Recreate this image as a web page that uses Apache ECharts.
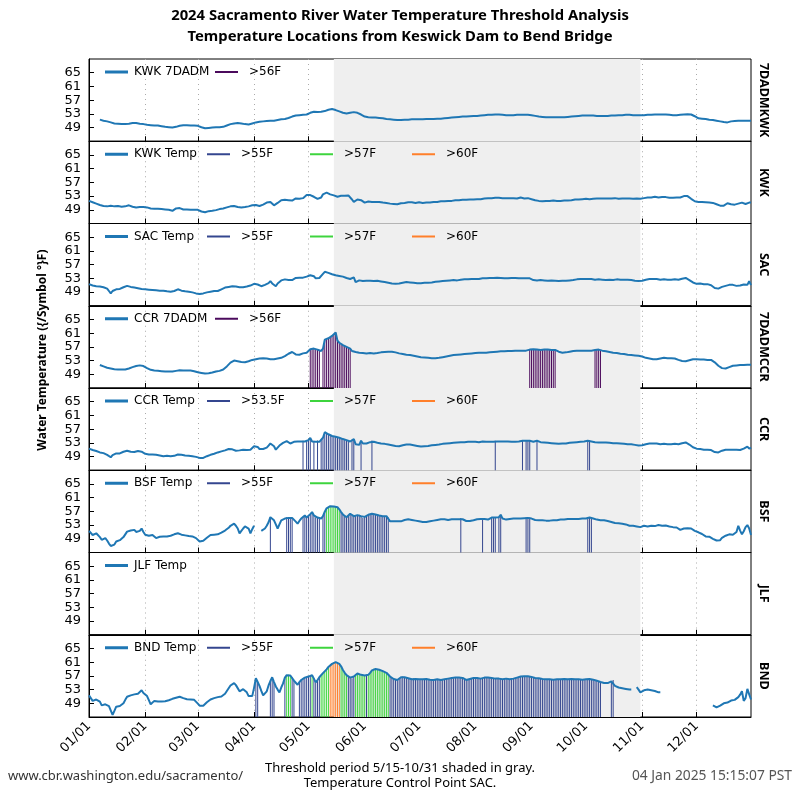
<!DOCTYPE html>
<html><head><meta charset="utf-8">
<script src="https://cdn.jsdelivr.net/npm/echarts@6/dist/echarts.min.js"></script>
<style>html,body{margin:0;padding:0;background:#fff}#c{width:800px;height:800px}</style>
</head><body><div id="c"></div>
<script>
// ---------- data (daily, 2024-01-01 .. 2024-12-31) ----------
const kwk7dadm = [
null,null,null,null,null,null,51.3,51.1,51.0,50.9,50.8,50.6,50.5,50.3,50.2,50.1,50.1,50.0,50.0,50.0,50.0,50.1,50.1,50.2,50.3,50.3,50.3,50.2,50.1,50.0,50.0,
49.9,49.8,49.8,49.7,49.7,49.6,49.6,49.6,49.5,49.4,49.3,49.2,49.2,49.1,49.0,49.0,49.0,49.2,49.4,49.5,49.7,49.7,49.8,49.7,49.7,49.6,49.6,49.6,49.6,
49.5,49.3,49.1,48.9,48.8,48.8,48.9,48.9,49.0,49.0,49.1,49.1,49.1,49.1,49.2,49.4,49.6,49.8,50.0,50.1,50.2,50.3,50.3,50.3,50.2,50.1,50.0,50.0,49.9,50.0,50.2,
50.4,50.5,50.6,50.7,50.8,50.8,50.9,50.9,50.9,51.0,51.0,51.0,51.1,51.2,51.3,51.4,51.5,51.5,51.6,51.8,52.0,52.2,52.4,52.5,52.6,52.6,52.7,52.7,52.8,52.8,
53.0,53.3,53.6,53.6,53.6,53.5,53.5,53.6,53.6,53.8,54.0,54.2,54.3,54.4,54.3,54.1,53.9,53.7,53.5,53.3,53.2,53.1,53.1,53.3,53.4,53.5,53.4,53.3,53.1,52.8,52.5,
52.2,52.1,52.0,52.0,51.9,51.9,51.9,51.8,51.8,51.7,51.7,51.6,51.5,51.4,51.4,51.3,51.3,51.2,51.2,51.2,51.2,51.3,51.3,51.3,51.3,51.3,51.4,51.4,51.4,51.4,
51.4,51.4,51.4,51.5,51.5,51.5,51.5,51.5,51.5,51.5,51.6,51.6,51.6,51.7,51.7,51.8,51.8,51.9,51.9,52.0,52.0,52.0,52.1,52.2,52.2,52.2,52.2,52.3,52.3,52.3,52.4,
52.4,52.4,52.5,52.5,52.5,52.6,52.6,52.7,52.7,52.7,52.8,52.8,52.8,52.8,52.8,52.7,52.7,52.6,52.6,52.6,52.6,52.6,52.6,52.7,52.7,52.7,52.7,52.7,52.7,52.7,52.7,
52.6,52.5,52.4,52.3,52.2,52.1,52.1,52.0,52.0,52.0,52.0,52.0,52.0,52.0,52.0,52.0,52.0,52.0,52.0,52.0,52.1,52.1,52.2,52.2,52.3,52.3,52.4,52.4,52.5,52.5,
52.5,52.5,52.5,52.5,52.5,52.4,52.4,52.4,52.4,52.4,52.4,52.4,52.4,52.4,52.5,52.5,52.5,52.5,52.6,52.6,52.6,52.6,52.7,52.7,52.7,52.7,52.6,52.6,52.6,52.6,52.6,
52.6,52.6,52.7,52.7,52.7,52.7,52.8,52.8,52.8,52.8,52.8,52.8,52.8,52.8,52.7,52.7,52.6,52.6,52.6,52.6,52.6,52.7,52.7,52.8,52.8,52.9,52.9,52.8,52.6,52.3,
52.0,51.7,51.6,51.6,51.5,51.5,51.4,51.3,51.3,51.2,51.1,51.0,50.9,50.8,50.7,50.6,50.5,50.5,50.8,50.8,50.9,50.9,51.0,51.0,51.0,51.0,51.0,51.0,51.0,51.0,51.0
];
const kwkTemp = [
51.6,51.5,51.2,50.9,50.8,50.6,50.4,50.2,50.1,50.2,50.0,50.1,50.2,50.1,50.0,49.9,50.1,50.2,49.9,49.8,50.0,50.2,50.3,50.1,49.9,49.8,49.7,49.6,49.8,49.9,49.8,
49.7,49.7,49.5,49.4,49.2,49.3,49.4,49.3,49.2,49.2,49.2,49.1,49.0,49.0,48.9,48.7,48.9,49.4,49.8,49.5,49.2,49.1,49.0,49.1,49.0,49.0,49.1,49.0,49.0,
49.0,48.8,48.5,48.2,48.3,48.5,48.6,48.7,48.7,48.7,48.9,49.1,49.2,49.4,49.4,49.6,49.7,49.8,50.0,50.1,50.1,50.0,49.8,49.6,49.7,49.7,49.8,49.9,50.0,49.9,50.3,
50.6,50.4,50.2,50.1,50.1,50.5,50.9,51.1,51.2,51.3,50.8,50.3,50.1,51.0,51.5,51.8,51.9,51.9,52.0,51.8,51.6,51.7,52.0,52.3,52.5,52.2,52.0,52.4,52.9,53.3,
53.4,53.3,52.9,52.8,52.5,52.2,52.0,52.6,53.5,53.9,54.0,54.1,53.5,53.6,53.2,52.9,52.8,53.0,53.1,53.2,53.1,52.8,53.2,53.6,52.0,51.3,51.7,52.0,52.1,51.8,51.4,
51.1,51.2,51.4,51.5,51.3,51.2,51.3,51.4,51.3,51.2,51.1,51.1,51.0,50.9,50.8,50.7,50.7,50.6,50.6,50.8,50.9,50.9,51.0,51.1,51.2,51.3,51.2,51.1,51.0,51.1,
51.2,51.1,51.0,51.1,51.1,51.0,51.1,51.2,51.3,51.4,51.3,51.4,51.5,51.6,51.5,51.6,51.6,51.7,51.6,51.8,51.8,51.7,51.8,51.9,51.9,52.0,51.9,52.0,52.0,52.1,52.0,
52.1,52.1,52.2,52.1,52.2,52.3,52.3,52.4,52.3,52.4,52.4,52.5,52.4,52.5,52.3,52.4,52.5,52.4,52.3,52.4,52.5,52.4,52.4,52.3,52.5,52.6,52.4,52.3,52.3,52.4,52.3,
52.1,52.0,51.8,51.7,51.6,51.6,51.5,51.6,51.6,51.5,51.6,51.6,51.7,51.6,51.6,51.5,51.6,51.6,51.7,51.6,51.7,51.8,51.8,51.9,52.0,51.9,52.0,52.1,52.1,52.2,
52.2,52.2,52.1,52.3,52.2,52.2,52.3,52.2,52.3,52.4,52.3,52.2,52.3,52.2,52.3,52.3,52.4,52.3,52.2,52.3,52.3,52.2,52.3,52.4,52.3,52.3,52.2,52.2,52.3,52.2,52.2,
52.3,52.4,52.5,52.6,52.7,52.6,52.7,52.8,52.7,52.6,52.6,52.7,52.8,52.7,52.6,52.5,52.5,52.5,52.6,52.6,52.5,52.6,52.8,53.0,53.2,53.0,52.6,52.2,51.8,51.5,
51.3,51.3,51.4,51.3,51.2,51.2,51.1,51.1,51.0,51.0,50.8,50.6,50.4,50.2,50.1,50.2,50.6,50.9,50.8,50.6,50.4,50.5,50.6,50.8,51.0,51.1,50.9,50.7,51.0,51.1,51.1
];
const sacTemp = [
51.3,51.1,50.9,50.8,50.7,50.6,50.6,50.5,50.4,50.2,50.0,49.3,48.6,49.3,49.8,49.8,49.9,49.9,50.1,50.4,50.6,50.8,50.7,50.5,50.4,50.3,50.2,50.1,50.0,49.9,49.8,
49.8,49.7,49.7,49.6,49.6,49.5,49.5,49.4,49.4,49.4,49.4,49.3,49.2,49.2,49.1,49.1,49.3,49.6,49.8,49.6,49.4,49.3,49.2,49.1,49.1,49.0,48.9,48.8,48.6,
48.5,48.4,48.5,48.6,48.8,48.9,49.0,49.1,49.2,49.3,49.3,49.3,49.5,49.8,50.1,50.3,50.4,50.5,50.6,50.7,50.7,50.6,50.5,50.4,50.3,50.4,50.5,50.6,50.8,50.9,51.2,
51.4,51.6,51.2,50.9,50.7,50.9,51.1,51.3,51.6,52.2,51.5,51.0,50.7,51.5,52.0,52.4,52.6,52.7,52.8,52.5,52.2,52.5,52.8,53.1,53.3,53.2,53.1,53.2,53.4,53.5,
53.6,53.9,54.2,53.6,53.0,53.0,53.1,53.6,54.3,54.9,54.8,54.6,54.4,54.2,54.0,53.9,53.8,53.7,53.6,53.5,53.3,53.1,53.0,52.8,53.1,53.3,51.9,52.1,52.4,52.3,52.2,
52.2,52.3,52.4,52.3,52.3,52.2,52.2,52.3,52.2,52.1,52.0,51.9,51.8,51.7,51.6,51.5,51.5,51.4,51.4,51.5,51.6,51.7,51.8,51.9,51.9,51.8,51.8,51.7,51.7,51.6,
51.6,51.6,51.6,51.7,51.6,51.7,51.8,51.8,51.9,52.0,52.0,52.1,52.1,52.2,52.2,52.3,52.4,52.4,52.4,52.5,52.5,52.4,52.5,52.6,52.6,52.7,52.6,52.7,52.7,52.8,52.8,
52.8,52.9,52.8,52.9,53.0,52.9,53.0,53.0,53.1,53.0,53.1,53.1,53.2,53.0,53.1,52.9,53.0,53.1,53.0,53.0,53.1,53.0,53.1,53.0,53.0,53.1,53.0,52.9,53.0,53.1,53.0,
52.6,52.5,52.4,52.4,52.4,52.5,52.4,52.4,52.3,52.3,52.3,52.4,52.3,52.3,52.3,52.2,52.2,52.3,52.2,52.3,52.4,52.4,52.5,52.5,52.6,52.7,52.7,52.8,52.8,52.8,
52.8,52.8,52.7,52.8,52.7,52.6,52.6,52.7,52.6,52.6,52.6,52.5,52.6,52.6,52.6,52.5,52.6,52.7,52.6,52.6,52.6,52.6,52.5,52.6,52.6,52.5,52.4,52.3,52.3,52.2,52.2,
52.3,52.5,52.6,52.7,52.8,52.8,52.8,52.7,52.8,52.7,52.6,52.6,52.7,52.6,52.6,52.5,52.6,52.6,52.7,52.7,52.6,52.7,52.9,53.1,53.1,52.9,52.5,52.1,51.8,51.5,
51.4,51.4,51.5,51.4,51.3,51.3,51.3,51.2,51.0,50.6,50.2,49.8,50.0,50.3,50.5,50.7,50.8,51.0,51.1,51.2,51.1,51.0,50.8,50.7,50.9,51.0,51.2,51.4,51.1,52.2,51.0
];
const ccr7dadm = [
null,null,null,null,null,null,51.7,51.5,51.3,51.1,50.9,50.8,50.7,50.6,50.5,50.5,50.4,50.4,50.4,50.4,50.4,50.5,50.7,50.9,51.1,51.3,51.4,51.5,51.6,51.6,51.4,
51.1,50.8,50.5,50.3,50.2,50.1,50.0,50.0,49.9,49.9,49.9,49.8,49.8,49.8,49.8,49.8,49.9,50.0,50.1,50.2,50.2,50.1,50.1,50.1,50.1,50.1,50.0,49.9,49.8,
49.6,49.5,49.4,49.3,49.2,49.2,49.3,49.4,49.5,49.7,49.8,49.9,50.0,50.2,50.4,50.8,51.3,51.8,52.4,52.9,53.0,52.9,52.8,52.7,52.6,52.5,52.5,52.6,52.8,53.0,53.2,
53.3,53.4,53.5,53.6,53.6,53.7,53.7,53.6,53.5,53.4,53.4,53.4,53.5,53.6,53.7,53.8,54.0,54.3,54.6,55.0,55.4,55.5,55.2,54.8,54.6,54.7,54.9,55.1,55.2,55.3,
55.8,56.3,56.6,56.5,56.3,56.2,56.1,55.8,56.5,59.1,59.3,59.5,59.6,60.2,60.7,61.2,58.8,58.2,57.8,57.5,57.3,57.0,56.8,56.5,55.8,55.6,55.5,55.4,55.3,55.2,55.2,
55.2,55.1,55.1,55.2,55.2,55.1,55.1,55.2,55.3,55.4,55.5,55.5,55.6,55.6,55.6,55.6,55.5,55.4,55.2,55.1,55.0,54.9,54.8,54.7,54.6,54.6,54.5,54.4,54.3,54.2,
54.1,54.0,53.9,53.9,53.8,53.8,53.7,53.7,53.7,53.7,53.8,53.8,53.9,54.0,54.1,54.2,54.3,54.4,54.5,54.6,54.6,54.7,54.7,54.8,54.8,54.9,54.9,55.0,55.0,55.1,55.1,
55.2,55.2,55.3,55.3,55.3,55.3,55.3,55.4,55.4,55.5,55.5,55.6,55.6,55.6,55.7,55.7,55.7,55.8,55.8,55.8,55.8,55.9,55.9,55.9,55.9,55.9,55.9,55.9,55.9,56.0,56.2,
56.3,56.3,56.3,56.2,56.2,56.1,56.1,56.2,56.2,56.2,56.1,56.1,56.1,56.1,55.9,55.6,55.4,55.3,55.3,55.4,55.5,55.6,55.7,55.8,55.8,55.9,55.9,55.9,55.9,55.9,
55.9,55.9,55.9,55.9,55.9,56.1,56.1,56.2,56.1,55.9,55.8,55.7,55.6,55.5,55.4,55.3,55.3,55.2,55.1,55.0,54.9,54.9,54.8,54.7,54.6,54.6,54.5,54.5,54.4,54.4,54.3,
54.2,54.0,53.8,53.7,53.6,53.5,53.4,53.4,53.4,53.5,53.6,53.7,53.8,53.8,53.7,53.7,53.7,53.7,53.6,53.4,53.2,53.0,52.9,52.8,52.8,52.9,53.1,53.3,53.4,53.4,
53.4,53.4,53.3,53.3,53.3,53.3,53.2,53.2,53.2,53.0,52.5,52.0,51.5,51.1,50.8,50.6,50.7,50.9,51.1,51.3,51.5,51.6,51.6,51.6,51.7,51.7,51.7,51.8,51.8,51.8,51.8
];
const ccrTemp = [
51.3,51.1,50.9,50.8,50.6,50.4,50.2,50.1,50.0,49.8,49.5,49.1,48.8,49.4,49.8,49.9,49.9,49.9,50.1,50.4,50.6,50.7,50.5,50.4,50.3,50.3,50.4,50.6,50.7,50.4,50.0,
49.8,49.6,49.6,49.7,49.6,49.6,49.5,49.4,49.3,49.2,49.1,49.1,49.2,49.1,49.1,49.1,49.2,49.4,49.6,49.6,49.5,49.4,49.3,49.2,49.2,49.1,49.1,49.0,48.9,
48.8,48.6,48.4,48.6,48.9,49.1,49.3,49.5,49.6,49.8,50.0,50.2,50.4,50.5,50.5,50.8,51.0,51.2,51.3,51.1,50.9,50.7,50.7,50.8,50.9,51.0,51.0,50.9,51.0,51.0,51.5,
52.0,52.4,51.8,51.2,51.0,51.2,51.4,51.6,52.2,52.8,53.1,52.0,51.0,51.6,52.2,52.6,53.0,53.3,53.5,53.2,52.8,53.0,53.3,53.4,53.4,53.4,53.4,53.6,53.4,53.7,
53.8,54.4,53.4,53.6,53.3,53.7,53.3,53.8,54.5,56.1,55.8,55.5,55.2,55.0,54.9,54.8,54.7,54.5,54.3,54.1,53.9,53.8,53.6,53.4,53.9,54.1,52.6,52.5,52.4,53.6,52.8,
52.6,52.8,53.0,53.2,53.7,53.3,53.1,53.0,52.9,52.8,52.8,52.7,52.6,52.5,52.4,52.3,52.2,52.1,51.9,52.0,52.2,52.3,52.4,52.5,52.6,52.5,52.4,52.3,52.2,52.1,
52.0,51.9,51.9,52.0,52.0,52.1,52.2,52.3,52.3,52.4,52.5,52.5,52.6,52.7,52.8,52.8,52.8,52.9,52.9,53.0,53.0,53.1,53.1,53.2,53.2,53.2,53.2,53.3,53.3,53.3,53.3,
53.3,53.3,53.2,53.3,53.4,53.3,53.3,53.4,53.3,53.4,53.3,53.6,53.4,53.3,53.4,53.3,53.4,53.3,53.4,53.4,53.3,53.4,53.3,53.4,53.4,53.3,53.6,53.4,53.6,53.7,53.6,
53.4,53.3,53.4,53.6,53.3,53.2,53.1,53.1,53.0,53.0,52.9,52.9,52.8,52.8,52.8,52.7,52.7,52.8,52.8,52.8,52.9,53.0,53.0,53.1,53.1,53.2,53.2,53.3,53.3,53.4,
53.4,53.6,53.7,53.4,53.3,53.2,53.2,53.1,53.1,53.1,53.1,53.1,53.1,53.0,53.0,52.9,52.9,52.9,52.8,52.8,52.8,52.7,52.7,52.6,52.6,52.6,52.5,52.4,52.3,52.2,52.2,
52.3,52.5,52.6,52.7,52.8,52.8,52.8,52.7,52.8,52.7,52.6,52.6,52.7,52.6,52.6,52.6,52.6,52.6,52.7,52.7,52.6,52.7,52.9,53.1,53.1,52.9,52.5,52.1,51.7,51.4,
51.3,51.2,51.2,51.1,51.0,51.0,51.0,51.0,50.9,50.6,50.3,50.0,50.2,50.5,50.7,50.9,51.0,51.0,51.0,51.0,51.0,51.0,51.0,50.9,50.9,51.0,51.3,51.7,51.9,51.3,51.6
];
const bsfTemp = [
51.3,50.8,50.1,50.3,50.6,50.6,49.5,48.7,49.0,49.2,48.5,47.6,46.9,46.5,47.3,48.2,48.5,48.6,48.7,49.5,50.3,51.1,51.3,51.4,51.5,51.6,51.0,50.6,51.3,52.0,51.0,
50.2,49.7,49.9,50.0,50.1,49.6,49.2,49.4,49.6,49.7,49.7,49.8,49.7,49.7,49.9,50.1,50.3,50.5,50.6,50.4,50.2,50.1,50.0,49.9,49.8,49.8,49.7,49.7,49.2,
48.7,48.2,48.0,48.4,48.9,49.3,49.7,50.1,50.2,50.2,50.3,50.3,50.5,50.8,51.1,51.4,51.6,52.2,52.8,53.2,53.4,52.8,52.0,50.6,51.3,52.0,52.6,53.0,52.0,50.6,51.8,
52.8,null,null,null,51.3,51.6,52.0,52.8,53.8,55.3,54.8,54.4,53.2,52.0,53.2,54.4,54.8,54.9,55.3,55.1,55.2,55.1,54.6,54.0,53.4,54.2,54.9,55.4,55.8,55.2,
55.6,56.2,56.8,55.8,55.3,55.2,55.1,54.9,55.6,56.9,57.9,58.3,58.5,58.5,58.4,58.3,58.2,57.6,56.8,56.1,55.7,55.3,55.8,56.3,55.9,55.6,55.7,55.9,56.0,55.6,55.1,
55.4,55.8,56.0,56.2,56.3,56.3,56.1,55.9,55.8,55.7,55.6,55.5,55.6,55.2,54.1,54.0,54.1,54.2,54.1,54.0,54.1,54.3,54.5,54.6,54.7,54.6,54.5,54.4,54.3,54.2,
54.1,54.0,53.9,53.9,53.9,54.0,54.1,54.2,54.3,54.4,54.5,54.6,54.7,54.6,54.7,54.6,54.5,54.6,54.7,54.8,54.7,54.8,54.7,55.1,54.7,54.4,54.2,54.1,54.2,54.3,54.4,
54.6,54.7,54.7,54.8,55.1,54.8,54.7,54.6,54.8,55.2,55.1,55.2,54.9,55.3,56.0,54.9,54.7,54.6,54.7,54.8,54.8,54.9,54.9,54.9,54.8,54.9,54.9,55.0,55.2,55.1,55.2,
54.9,54.7,54.5,54.4,54.4,54.3,54.4,54.4,54.3,54.4,54.3,54.4,54.4,54.5,54.4,54.5,54.6,54.5,54.6,54.7,54.8,54.7,54.8,54.9,54.8,54.9,54.8,54.9,54.9,55.0,
54.9,55.1,55.2,55.1,54.9,54.7,54.6,54.5,54.4,54.3,54.4,54.3,54.2,54.1,53.9,53.7,53.6,53.8,53.5,53.3,53.4,53.3,53.2,53.0,52.8,52.9,52.8,52.7,52.6,52.5,52.4,
52.6,52.8,52.7,52.6,52.7,52.8,52.6,52.7,52.9,53.0,52.9,52.8,53.0,52.9,52.7,52.6,52.5,52.4,52.5,52.3,52.0,51.6,51.8,52.0,52.2,52.1,52.2,52.0,51.6,51.3,
51.1,50.9,50.6,50.4,50.1,49.7,49.8,49.6,49.3,49.0,48.8,48.5,48.0,48.6,49.3,49.7,49.9,50.1,50.3,50.4,50.2,50.0,51.0,52.8,51.4,50.3,51.2,52.4,53.0,52.0,50.1
];
const jlfTemp = [];
const bndTemp = [
51.3,50.5,49.7,49.9,50.1,50.3,49.5,48.4,48.5,48.7,48.5,48.2,47.8,45.6,46.8,48.0,48.1,48.2,48.2,49.0,50.0,50.9,51.1,51.3,51.4,51.6,51.7,51.8,52.3,52.8,52.0,
51.5,51.1,49.9,48.7,49.2,49.7,49.6,49.5,49.4,49.5,49.6,49.6,49.7,49.9,50.1,50.3,50.5,50.6,51.1,50.9,50.7,50.5,50.3,50.2,50.1,50.1,50.1,50.0,49.5,
48.9,48.3,47.8,48.3,48.8,49.3,49.7,50.1,50.3,50.5,50.6,50.8,50.9,51.0,51.1,51.8,52.6,53.4,54.2,54.6,54.9,54.3,53.9,52.5,52.8,53.1,53.2,52.2,51.1,51.0,51.1,
53.5,56.3,55.2,54.1,52.6,51.3,51.9,52.5,54.2,55.5,56.6,55.2,53.9,53.0,52.2,53.6,54.8,56.5,57.2,57.3,57.1,56.6,55.6,55.0,54.4,55.2,55.8,56.3,56.5,56.7,
56.8,57.0,57.2,56.2,55.1,55.8,56.6,57.2,57.8,58.2,58.9,59.6,60.1,60.5,60.9,61.0,60.9,60.5,59.8,58.7,57.9,57.2,56.8,56.5,56.3,56.8,57.2,57.7,57.5,57.3,57.2,
57.1,57.0,57.3,57.9,58.6,59.1,59.0,58.9,58.8,58.6,58.4,58.2,57.9,57.4,56.8,56.4,56.1,55.9,55.8,56.2,56.6,56.8,56.6,56.4,56.3,56.1,56.0,56.2,56.1,56.0,
56.0,56.1,56.0,55.9,56.1,56.0,55.9,55.9,55.8,55.9,56.0,55.8,55.8,55.9,56.0,56.1,56.2,56.3,56.4,56.3,56.5,56.4,56.5,56.6,56.4,56.2,55.8,55.9,56.1,56.3,56.4,
56.5,56.4,56.3,56.2,56.4,56.5,56.6,56.5,56.6,56.4,56.3,56.2,56.3,56.2,56.1,56.0,56.1,56.2,56.1,56.0,56.0,56.2,56.4,56.5,56.6,56.8,56.9,56.9,56.9,56.9,56.8,
56.7,56.5,56.4,56.3,56.3,56.2,56.1,56.0,56.0,56.1,56.0,56.0,55.9,55.9,56.0,56.1,56.0,56.0,56.1,56.0,56.0,56.1,56.1,56.0,56.0,56.1,56.0,56.0,55.9,56.0,
56.0,56.0,56.1,56.0,55.9,55.8,55.6,55.4,55.2,55.0,54.9,54.8,54.9,55.0,55.4,55.8,54.1,53.8,53.6,53.5,53.4,53.3,53.2,53.1,53.0,53.0,null,null,53.7,53.0,52.2,
52.5,52.8,53.0,53.0,52.9,52.8,52.8,52.6,52.4,52.2,52.2,null,null,null,null,null,null,null,null,null,null,null,null,null,null,null,null,null,null,null,
null,null,null,null,null,null,null,null,null,48.4,48.2,47.8,47.9,48.3,48.7,49.0,49.0,49.2,49.5,49.8,50.1,50.0,50.3,50.8,51.5,52.5,49.7,50.5,53.2,51.6,50.1
];

const yTicks = [49, 53, 57, 61, 65];
const shadeStart = '05/15', shadeEnd = '10/31';

// ---------- style ----------
const LINE = '#1f77b4', NAVY = '#34468f', PURPLE = '#4b0a5c', GREEN = '#3ed43e', ORANGE = '#ff7f2a';
const FONT = 'DejaVu Sans', TFONT = 'Noto Sans';

const dates = [];
for (let d = new Date(Date.UTC(2024, 0, 1)); d.getUTCFullYear() === 2024; d.setUTCDate(d.getUTCDate() + 1)) {
  dates.push(String(d.getUTCMonth() + 1).padStart(2, '0') + '/' + String(d.getUTCDate()).padStart(2, '0'));
}
const monthStart = (i, v) => v.endsWith('/01');

const th55 = [{name: '>55F', lo: 55, hi: 57, color: NAVY}, {name: '>57F', lo: 57, hi: 60, color: GREEN}, {name: '>60F', lo: 60, hi: 1e9, color: ORANGE}];
const th535 = [{name: '>53.5F', lo: 53.5, hi: 57, color: NAVY}, {name: '>57F', lo: 57, hi: 60, color: GREEN}, {name: '>60F', lo: 60, hi: 1e9, color: ORANGE}];
const th56 = [{name: '>56F', lo: 56, hi: 1e9, color: PURPLE}];

const POS_T = [105, 207, 310, 412], POS_D = [105, 215];
const panels = [
  {label: '7DADMKWK', line: 'KWK 7DADM', data: kwk7dadm, th: th56, pos: POS_D},
  {label: 'KWK', line: 'KWK Temp', data: kwkTemp, th: th55, pos: POS_T},
  {label: 'SAC', line: 'SAC Temp', data: sacTemp, th: th55, pos: POS_T},
  {label: '7DADMCCR', line: 'CCR 7DADM', data: ccr7dadm, th: th56, pos: POS_D},
  {label: 'CCR', line: 'CCR Temp', data: ccrTemp, th: th535, pos: POS_T},
  {label: 'BSF', line: 'BSF Temp', data: bsfTemp, th: th55, pos: POS_T},
  {label: 'JLF', line: 'JLF Temp', data: jlfTemp, th: [], pos: POS_T},
  {label: 'BND', line: 'BND Temp', data: bndTemp, th: th55, pos: POS_T}
];

const TOP = 59, PH = 82.25, LEFT = 89, PW = 662;
const grid = [], xAxis = [], yAxis = [], series = [], legend = [];
panels.forEach((p, i) => {
  const top = TOP + i * PH;
  grid.push({left: LEFT, top: top, width: PW, height: PH, show: true, borderColor: '#000', borderWidth: 1, backgroundColor: 'transparent'});
  xAxis.push({
    gridIndex: i, type: 'category', data: dates, boundaryGap: false,
    axisLine: {show: true, lineStyle: {color: '#000', width: 1}},
    axisTick: {show: true, inside: true, length: 5, interval: monthStart, lineStyle: {color: '#000'}},
    axisLabel: {show: i === panels.length - 1, interval: monthStart, rotate: 45, margin: 7,
      fontFamily: FONT, fontSize: 13, color: '#000'},
    splitLine: {show: true, interval: monthStart, lineStyle: {type: [1, 4], color: '#aaa', width: 1}}
  });
  yAxis.push({
    gridIndex: i, type: 'value', min: 45, max: 69, interval: 4, startValue: 45,
    axisLine: {show: true, lineStyle: {color: '#000'}},
    axisTick: {show: true, inside: true, length: 5, lineStyle: {color: '#000'}},
    axisLabel: {showMinLabel: false, showMaxLabel: false, margin: 8, fontFamily: FONT, fontSize: 13, color: '#000',
      formatter: v => yTicks.includes(v) ? String(v) : ''},
    splitLine: {show: false}
  });
  yAxis.push({
    gridIndex: i, type: 'value', min: 45, max: 69, position: 'right',
    axisLine: {show: false}, axisTick: {show: false}, axisLabel: {show: false}, splitLine: {show: false},
    name: p.label, nameLocation: 'middle', nameRotate: -90, nameGap: 6,
    nameTextStyle: {fontFamily: TFONT, fontWeight: 'bold', fontSize: 12.5, color: '#000'}
  });
  // shaded threshold period
  series.push({
    type: 'line', name: 'shade' + i, xAxisIndex: i, yAxisIndex: 2 * i, data: [], z: -1, silent: true,
    markArea: {silent: true, itemStyle: {color: '#efefef'}, data: [[{xAxis: shadeStart}, {xAxis: shadeEnd}]]}
  });
  p.th.forEach(t => {
    series.push({
      type: 'bar', name: t.name, xAxisIndex: i, yAxisIndex: 2 * i, barWidth: 1, barGap: '-100%', clip: true,
      itemStyle: {color: t.color}, color: t.color, z: 2, silent: true,
      data: p.data.map(v => (v != null && v > t.lo && v <= t.hi) ? v : '-')
    });
  });
  series.push({
    type: 'line', name: p.line, xAxisIndex: i, yAxisIndex: 2 * i, data: p.data, showSymbol: false, symbol: 'none',
    connectNulls: false, color: LINE, lineStyle: {color: LINE, width: 2}, z: 3, silent: true
  });
  // one legend box per key entry, at fixed columns like the original
  [p.line].concat(p.th.map(t => t.name)).forEach((n, k) => {
    legend.push({
      top: top + 7, left: p.pos[k], padding: 0, selectedMode: false,
      itemWidth: 23, itemHeight: k === 0 ? 3 : 2,
      data: [{name: n, icon: 'rect'}],
      textStyle: {fontFamily: FONT, fontSize: 12, color: '#000', padding: [0, 0, 0, k === 0 ? 1 : 6]}
    });
  });
});

const graphic = [
  {type: 'text', x: 400, y: 16, style: {text: '2024 Sacramento River Water Temperature Threshold Analysis', font: 'bold 14.8px "Noto Sans"', fill: '#000', textAlign: 'center', textVerticalAlign: 'middle'}},
  {type: 'text', x: 400, y: 37, style: {text: 'Temperature Locations from Keswick Dam to Bend Bridge', font: 'bold 14.8px "Noto Sans"', fill: '#000', textAlign: 'center', textVerticalAlign: 'middle'}},
  {type: 'text', x: 43, y: 350, rotation: Math.PI / 2, style: {text: 'Water Temperature ({/Symbol °}F)', font: 'bold 12px "Noto Sans"', fill: '#000', textAlign: 'center', textVerticalAlign: 'middle'}},
  {type: 'text', x: 8, y: 776, style: {text: 'www.cbr.washington.edu/sacramento/', font: '13px "Noto Sans"', fill: '#333', textAlign: 'left', textVerticalAlign: 'middle'}},
  {type: 'text', x: 400, y: 768, style: {text: 'Threshold period 5/15-10/31 shaded in gray.', font: '13px "Noto Sans"', fill: '#000', textAlign: 'center', textVerticalAlign: 'middle'}},
  {type: 'text', x: 400, y: 783, style: {text: 'Temperature Control Point SAC.', font: '13px "Noto Sans"', fill: '#000', textAlign: 'center', textVerticalAlign: 'middle'}},
  {type: 'text', x: 792, y: 776, style: {text: '04 Jan 2025 15:15:07 PST', font: '13.8px "Noto Sans"', fill: '#555', textAlign: 'right', textVerticalAlign: 'middle'}}
];

const chart = echarts.init(document.getElementById('c'), null, {renderer: 'canvas'});
chart.setOption({
  animation: false, backgroundColor: '#fff',
  grid, xAxis, yAxis, series, legend, graphic
});
</script></body></html>
